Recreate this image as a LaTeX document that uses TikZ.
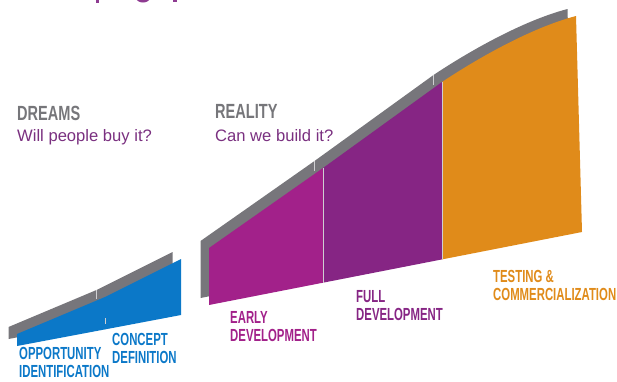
\documentclass[tikz,border=0pt]{standalone}
\usepackage{fontspec}
\setmainfont{Liberation Sans}
\newfontfamily\condfont[FakeStretch=0.65]{Liberation Sans}
\newfontfamily\headfont[FakeStretch=0.71]{Liberation Sans}

\definecolor{stageblue}{HTML}{0B78C8}
\definecolor{stagemagenta}{HTML}{A2218A}
\definecolor{stagepurple}{HTML}{862584}
\definecolor{stageorange}{HTML}{E08B1A}
\definecolor{bandgray}{HTML}{77767B}
\definecolor{seamgray}{HTML}{CFCFD2}
\definecolor{headgray}{HTML}{76767A}
\definecolor{askpurple}{HTML}{7A3080}
\definecolor{titlepurple}{HTML}{8E3B91}

\begin{document}
\begin{tikzpicture}[x=1pt,y=-1pt,
  seam/.style={draw=seamgray, line width=0.9pt},
  phase/.style={font=\headfont\bfseries\fontsize{20.5}{24}\selectfont,
    text=headgray, anchor=north west, inner sep=0pt},
  question/.style={font=\fontsize{16.6}{19}\selectfont,
    text=askpurple, anchor=base west, inner sep=0pt},
  stagelabel/.style={font=\condfont\bfseries\fontsize{17.5}{18.5}\selectfont,
    anchor=north west, inner sep=0pt, align=left},
]
\useasboundingbox (0,0) rectangle (617,381);

% descenders of the heading line above
\begin{scope}
  \clip (0,0) rectangle (617,381);
  \fill[titlepurple] (96,-4) rectangle (99,2.5);
  \fill[titlepurple] (143,-1.5) ellipse [x radius=6.5pt, y radius=4pt];
  \fill[titlepurple] (173,-4) rectangle (176.5,2);
\end{scope}

% back face of the curve: the same outline set back up and to the left
\begin{scope}[shift={(-8.5,-7)}]
  \fill[bandgray] (17,346) -- (17,334) -- (105,297) -- (181,259) -- (181,315) -- cycle;
  \draw[seam] (105,297) -- (105,306);
  \fill[bandgray] (209,305) -- (209,248) -- (323,168) -- (442,82)
    .. controls (475,60) and (530,28) .. (576,16) -- (582,232) -- cycle;
  \draw[seam] (323,168) -- (323,178);
  \draw[seam] (442,82) -- (442,92);
\end{scope}

% dreams: two blue stages
\fill[stageblue] (17,346) -- (17,334) -- (105,297) -- (105,329.4) -- cycle;
\fill[stageblue] (105,329.4) -- (105,297) -- (181,259) -- (181,315) -- cycle;
\draw[seam, line width=0.6pt] (105,318) -- (105,324);

% reality: three stages
\fill[stagemagenta] (209,305) -- (209,248) -- (323,168) -- (323,282.7) -- cycle;
\fill[stagepurple] (323,282.7) -- (323,168) -- (442,82) -- (442,259.4) -- cycle;
\fill[stageorange] (442,259.4) -- (442,82)
  .. controls (475,60) and (530,28) .. (576,16) -- (582,232) -- cycle;
\draw[seam] (323,168) -- (323,282.7);
\draw[seam] (442,82) -- (442,259.4);

% headings
\node[phase] (dreams) at (17,106) {DREAMS};
\node[question] (buy) at (17,141.5) {Will people buy it?};
\node[phase] (reality) at (215,104.5) {REALITY};
\node[question] (build) at (215,141.5) {Can we build it?};

% stage labels
\node[stagelabel, text=stageblue] (opportunity) at (19,347) {OPPORTUNITY\\IDENTIFICATION};
\node[stagelabel, text=stageblue] (concept) at (112,333) {CONCEPT\\DEFINITION};
\node[stagelabel, text=stagemagenta] (early) at (230,311) {EARLY\\DEVELOPMENT};
\node[stagelabel, text=stagepurple] (full) at (356,290) {FULL\\DEVELOPMENT};
\node[stagelabel, text=stageorange] (testing) at (493,270) {TESTING \&\\COMMERCIALIZATION};
\end{tikzpicture}
\end{document}
